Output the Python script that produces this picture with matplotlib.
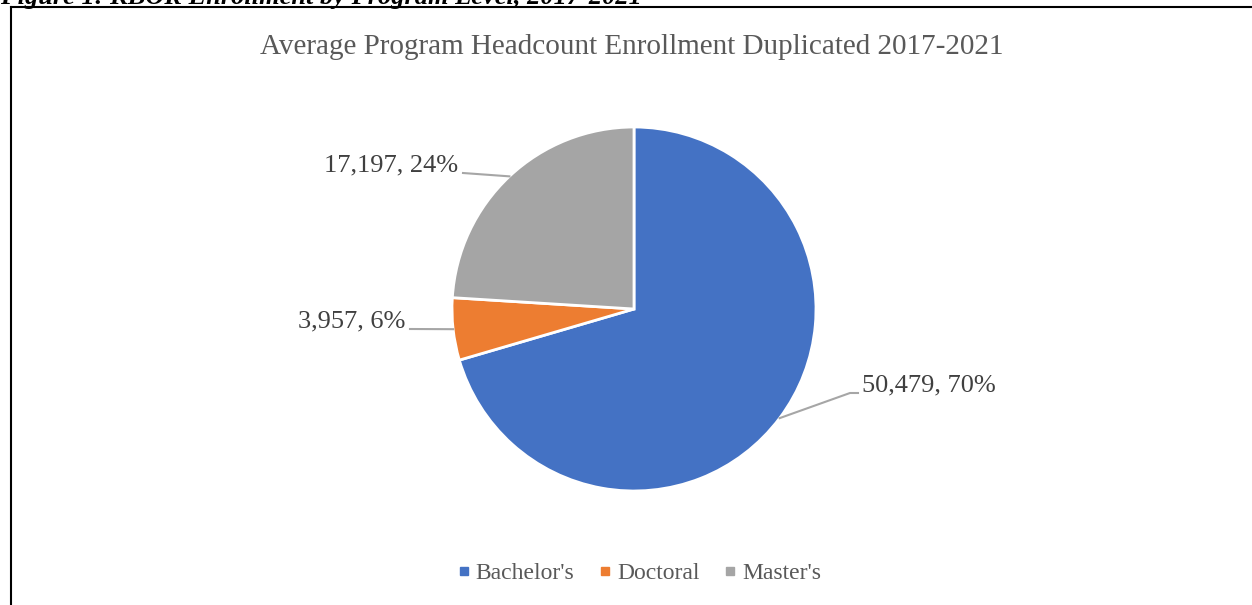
import numpy as np
import matplotlib.pyplot as plt
from matplotlib.lines import Line2D

# data
levels = ["Bachelor's", "Doctoral", "Master's"]
headcount = [50479, 3957, 17197]
colors = ['#4472C4', '#ED7D31', '#A5A5A5']

W, H = 1252, 605
fig = plt.figure(figsize=(W / 100, H / 100), dpi=100)
plt.rcParams['font.family'] = ['Liberation Serif', 'DejaVu Serif']

# pie axes: centre (634, 309) px, radius 182 px
cx, cy, r = 634, 309, 182
ax = fig.add_axes([(cx - r) / W, (H - cy - r) / H, 2 * r / W, 2 * r / H])
wedges, _ = ax.pie(headcount, colors=colors, startangle=90, counterclock=False,
                   radius=1, wedgeprops=dict(edgecolor='white', linewidth=2))
ax.set_xlim(-1, 1)
ax.set_ylim(-1, 1)
ax.set_aspect('equal')
ax.axis('off')

def px(x, y):
    return (x - cx) / r, (cy - y) / r

total = sum(headcount)
# label anchor (px) and alignment per slice
label_pos = {"Bachelor's": (862, 385, 'left'),
             "Doctoral": (405, 321, 'right'),
             "Master's": (458, 165, 'right')}

for w, name, val in zip(wedges, levels, headcount):
    mid = np.deg2rad((w.theta1 + w.theta2) / 2)
    ex, ey = np.cos(mid), np.sin(mid)
    lx, ly, ha = label_pos[name]
    txt = f"{val:,}, {round(100 * val / total):.0f}%"
    ax.text(*px(lx, ly), txt, ha=ha, va='center', fontsize=19,
            color='#404040', clip_on=False)
    if ha == 'left':
        xs = [ex, px(lx - 12, 0)[0], px(lx - 4, 0)[0]]
        ys = [ey, px(0, ly + 8)[1], px(0, ly + 8)[1]]
    else:
        xs = [px(lx + 5, 0)[0], ex]
        ys = [px(0, ly + 8)[1], ey]
    ax.plot(xs, ys, color='#A6A6A6', lw=1.5, clip_on=False)

fig.text(632 / W, 1 - 47 / H, 'Average Program Headcount Enrollment Duplicated 2017-2021',
         ha='center', va='center', fontsize=21, color='#595959')

handles = [Line2D([], [], ls='none', marker='s', markersize=5.2, color=c) for c in colors]
fig.legend(handles, levels, loc='center', bbox_to_anchor=(639 / W, 1 - 573 / H),
           ncol=3, frameon=False, fontsize=17, handlelength=0.6, handletextpad=0.2,
           columnspacing=1.0, labelcolor='#595959')

# caption cut off at the top and chart frame
fig.text(0.0, 1 - 4 / H, 'Figure 1: KBOR Enrollment by Program Level, 2017-2021',
         ha='left', va='baseline', fontsize=19, fontweight='bold', fontstyle='italic',
         color='black')
fig.add_artist(Line2D([11 / W, 11 / W], [0, 1 - 7 / H], color='black', lw=1.5))
fig.add_artist(Line2D([11 / W, 1], [1 - 7 / H, 1 - 7 / H], color='black', lw=1.5))

fig.savefig('out.png', dpi=100)
